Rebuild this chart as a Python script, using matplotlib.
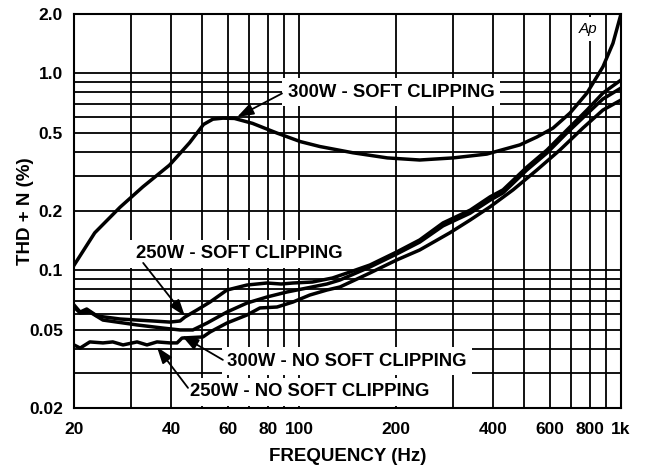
import matplotlib
matplotlib.use('Agg')
import matplotlib.pyplot as plt
from matplotlib.ticker import NullFormatter

# values (frequency in Hz, THD+N in %)
freq_300_soft = [20, 23.2, 27.8, 32.7, 39.6, 45.7, 50.5, 54, 58, 63, 71.7, 85.5, 101, 116,
                 147, 188, 237, 301, 383, 485, 548, 615, 694, 784, 879, 944, 1000]
thd_300_soft = [0.106, 0.155, 0.209, 0.265, 0.342, 0.444, 0.55, 0.585, 0.592, 0.59, 0.557, 0.497,
                0.45, 0.425, 0.395, 0.372, 0.363, 0.372, 0.389, 0.433, 0.475, 0.527, 0.628, 0.794,
                1.08, 1.42, 2.0]

freq_250_soft = [20, 20.9, 21.9, 23.6, 27.8, 31.4, 35.2, 39.7, 42.7, 44.2, 48.2, 52.9, 59.7, 68.9,
                 79.5, 88, 95.7, 110, 127, 141, 166, 201, 237, 280, 340, 392, 430, 510, 589,
                 679, 784, 879, 1000]
thd_250_soft = [0.0667, 0.0614, 0.0636, 0.0586, 0.0566, 0.0559, 0.0553, 0.0546, 0.0553, 0.0579,
                0.0629, 0.069, 0.0794, 0.0842, 0.0862, 0.0852, 0.0862, 0.0872, 0.0914, 0.0969,
                0.1064, 0.1239, 0.1426, 0.174, 0.202, 0.236, 0.256, 0.334, 0.408, 0.515, 0.651,
                0.794, 0.925]

freq_300_nosoft = [20, 20.9, 22.4, 24.6, 31.4, 37.8, 42.7, 46.8, 51.8, 59.7, 68.9, 79.5, 91.7,
                   105.8, 122, 134, 166, 201, 237, 280, 340, 392, 430, 510, 589, 679, 784, 879, 1000]
thd_300_nosoft = [0.0651, 0.0607, 0.0614, 0.0559, 0.0528, 0.0509, 0.0498, 0.0498, 0.054, 0.0614,
                  0.0682, 0.0732, 0.0776, 0.0813, 0.0852, 0.0893, 0.1039, 0.121, 0.139, 0.168,
                  0.195, 0.227, 0.247, 0.323, 0.394, 0.498, 0.622, 0.741, 0.842]

freq_250_nosoft = [20, 20.9, 22.4, 24.6, 26.4, 28.4, 31.4, 33.7, 36.2, 39.7, 41.8, 43.3, 50.3,
                   52.9, 59.7, 68.9, 75.6, 85.4, 95.7, 108, 122, 134, 166, 201, 237, 294, 340,
                   392, 462, 548, 646, 762, 879, 1000]
thd_250_nosoft = [0.0418, 0.0403, 0.0433, 0.0428, 0.0433, 0.0418, 0.0433, 0.0418, 0.0433, 0.0428,
                  0.0428, 0.0453, 0.0459, 0.0486, 0.054, 0.0593, 0.0644, 0.0651, 0.069, 0.0749,
                  0.0794, 0.0823, 0.0969, 0.1128, 0.1268, 0.155, 0.180, 0.210, 0.256, 0.323,
                  0.408, 0.528, 0.651, 0.732]

x_ticks = [20, 40, 60, 80, 100, 200, 400, 600, 800, 1000]
x_tick_labels = ['20', '40', '60', '80', '100', '200', '400', '600', '800', '1k']
x_minor = [30, 50, 70, 90, 300, 500, 700, 900]
y_ticks = [0.02, 0.05, 0.1, 0.2, 0.5, 1.0, 2.0]
y_tick_labels = ['0.02', '0.05', '0.1', '0.2', '0.5', '1.0', '2.0']
y_minor = [0.03, 0.04, 0.06, 0.07, 0.08, 0.09, 0.3, 0.4, 0.6, 0.7, 0.8, 0.9]

# label text, text centre, arrow tail, arrow head (all in data coords)
labels = [
    ('300W - SOFT CLIPPING', (193, 0.80), (88.5, 0.79), (64.2, 0.60)),
    ('250W - SOFT CLIPPING', (65.1, 0.1215), (32.8, 0.109), (44.2, 0.0586)),
    ('300W - NO SOFT CLIPPING', (140.9, 0.0345), (58.0, 0.0351), (43.3, 0.0464)),
    ('250W - NO SOFT CLIPPING', (107.7, 0.0242), (45.2, 0.0253), (36.2, 0.0408)),
]

plt.rcParams['font.family'] = ['Liberation Sans', 'DejaVu Sans']
plt.rcParams['font.weight'] = 'bold'

fig = plt.figure(figsize=(6.45, 4.70), dpi=100)
ax = fig.add_axes([74 / 645, 1 - 408 / 470, 547 / 645, 394 / 470])

for f, v in [(freq_300_soft, thd_300_soft), (freq_250_soft, thd_250_soft),
             (freq_300_nosoft, thd_300_nosoft), (freq_250_nosoft, thd_250_nosoft)]:
    ax.plot(f, v, color='black', lw=2.5, solid_joinstyle='round', zorder=3)

ax.set_xscale('log')
ax.set_yscale('log')
ax.set_xlim(20, 1000)
ax.set_ylim(0.02, 2.0)
ax.set_xticks(x_ticks, x_tick_labels)
ax.set_xticks(x_minor, minor=True)
ax.set_yticks(y_ticks, y_tick_labels)
ax.set_yticks(y_minor, minor=True)
ax.xaxis.set_minor_formatter(NullFormatter())
ax.yaxis.set_minor_formatter(NullFormatter())
ax.tick_params(which='both', length=0, labelsize=12.5)
ax.tick_params(axis='x', pad=10)
ax.tick_params(axis='y', pad=8)
ax.grid(True, which='both', color='black', lw=1.3)
ax.set_axisbelow(True)
for s in ax.spines.values():
    s.set_linewidth(1.5)

ax.set_xlabel('FREQUENCY (Hz)', fontsize=13.5, fontweight='bold', labelpad=8)
ax.set_ylabel('THD + N (%)', fontsize=13.5, fontweight='bold')
ax.yaxis.set_label_coords(-0.073, 0.5)

for text, pos, tail, head in labels:
    ax.text(pos[0], pos[1], text, ha='center', va='center', fontsize=13.3, fontweight='bold',
            bbox=dict(boxstyle='square,pad=0.3', fc='white', ec='none'), zorder=4)
    ax.annotate('', xy=head, xytext=tail,
                arrowprops=dict(arrowstyle='-|>,head_length=1.0,head_width=0.35',
                                color='black', lw=1.3, shrinkA=0, shrinkB=0), zorder=5)

ax.text(790, 1.68, 'Ap', ha='center', va='center', fontsize=11, fontstyle='italic',
        fontweight='normal', bbox=dict(boxstyle='square,pad=0.3', fc='white', ec='none'), zorder=4)

fig.savefig('out.png', dpi=100)
